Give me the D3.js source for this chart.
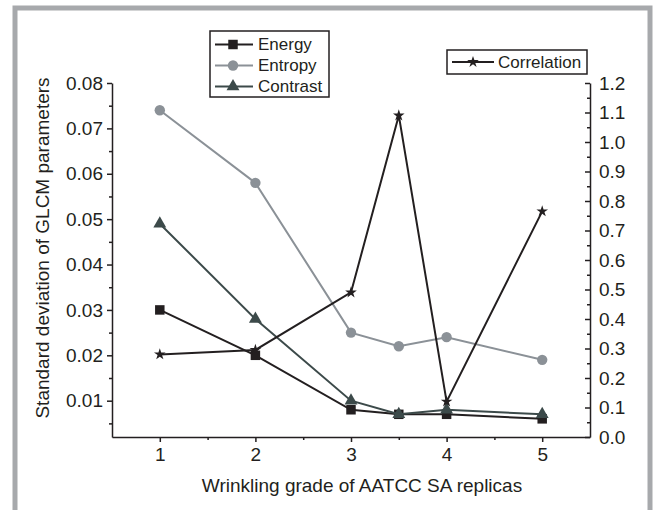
<!DOCTYPE html>
<html>
<head>
<meta charset="utf-8">
<script src="https://cdn.jsdelivr.net/npm/d3@7"></script>
<style>
  body { margin: 0; background: #fff; }
  svg { display: block; font-family: "Liberation Sans", Arial, sans-serif; }
</style>
</head>
<body>
<div id="chart"></div>
<script>
// grades (x), with one intermediate sample at 3.5
const grades = [1, 2, 3, 3.5, 4, 5];
const energy = [0.030, 0.020, 0.008, 0.007, 0.007, 0.006];
const entropy = [0.074, 0.058, 0.025, 0.022, 0.024, 0.019];
const contrast = [0.049, 0.028, 0.010, 0.007, 0.008, 0.007];
const correlation = [0.28, 0.295, 0.49, 1.09, 0.12, 0.765];

const xTicks = [1, 2, 3, 4, 5];
const leftTicks = [0.01, 0.02, 0.03, 0.04, 0.05, 0.06, 0.07, 0.08];
const rightTicks = [0, 0.1, 0.2, 0.3, 0.4, 0.5, 0.6, 0.7, 0.8, 0.9, 1.0, 1.1, 1.2];

const W = 654, H = 510;
const svg = d3.select("#chart").append("svg")
    .attr("width", W)
    .attr("height", H);

// gray frame round the figure
svg.append("rect")
    .attr("x", 15).attr("y", 8)
    .attr("width", 635).attr("height", 520)
    .attr("fill", "none")
    .attr("stroke", "#a7a9ac")
    .attr("stroke-width", 5);

// scales
const x = d3.scaleLinear().domain([0.5, 5.5]).range([112, 590]);
const yL = d3.scaleLinear().domain([0.002, 0.08]).range([437, 83]);
const yR = d3.scaleLinear().domain([0, 1.2]).range([437, 83]);

const axisColor = "#231f20";

function styleAxis(g) {
    g.select(".domain").attr("stroke", axisColor).attr("stroke-width", 1.5);
    g.selectAll(".tick line").attr("stroke", axisColor).attr("stroke-width", 1.5);
    g.selectAll(".tick text").attr("fill", axisColor).style("font-size", "19px");
}

// bottom axis
svg.append("g")
    .attr("transform", "translate(0,437)")
    .call(d3.axisBottom(x).tickValues(xTicks).tickFormat(d3.format("d")).tickSize(5).tickSizeOuter(0).tickPadding(6))
    .call(styleAxis);
svg.append("g")
    .attr("transform", "translate(0,437)")
    .call(d3.axisBottom(x).tickValues([1.5, 2.5, 3.5, 4.5]).tickFormat("").tickSize(3).tickSizeOuter(0))
    .call(g => g.select(".domain").remove())
    .call(styleAxis);

// left axis
svg.append("g")
    .attr("transform", "translate(112,0)")
    .call(d3.axisLeft(yL).tickValues(leftTicks).tickFormat(d3.format(".2f")).tickSize(5).tickSizeOuter(0).tickPadding(4))
    .call(styleAxis);
svg.append("g")
    .attr("transform", "translate(112,0)")
    .call(d3.axisLeft(yL).tickValues([0.005, 0.015, 0.025, 0.035, 0.045, 0.055, 0.065, 0.075]).tickFormat("").tickSize(3).tickSizeOuter(0))
    .call(g => g.select(".domain").remove())
    .call(styleAxis);

// right axis, ticks drawn inward
svg.append("g")
    .attr("transform", "translate(590,0)")
    .call(d3.axisRight(yR).tickValues(rightTicks).tickFormat(d3.format(".1f")).tickSize(-5).tickSizeOuter(0).tickPadding(9))
    .call(styleAxis);
svg.append("g")
    .attr("transform", "translate(590,0)")
    .call(d3.axisRight(yR).tickValues(d3.range(0.05, 1.2, 0.1)).tickFormat("").tickSize(-3).tickSizeOuter(0))
    .call(g => g.select(".domain").remove())
    .call(styleAxis);

// axis titles
svg.append("text")
    .attr("x", 362).attr("y", 492)
    .attr("text-anchor", "middle")
    .attr("fill", axisColor)
    .style("font-size", "19px")
    .text("Wrinkling grade of AATCC SA replicas");

svg.append("text")
    .attr("transform", "translate(49,248) rotate(-90)")
    .attr("text-anchor", "middle")
    .attr("fill", axisColor)
    .style("font-size", "19px")
    .text("Standard deviation of GLCM parameters");

// series
const series = [
    { name: "Energy", values: energy, color: "#231f20", symbol: d3.symbolSquare, size: 90, scale: yL },
    { name: "Entropy", values: entropy, color: "#8b9197", symbol: d3.symbolCircle, size: 85, scale: yL },
    { name: "Contrast", values: contrast, color: "#3c4a4a", symbol: d3.symbolTriangle, size: 72, scale: yL },
    { name: "Correlation", values: correlation, color: "#231f20", symbol: d3.symbolStar, size: 42, scale: yR }
];

series.forEach(s => {
    const pts = grades.map((g, i) => [g, s.values[i]]);
    const line = d3.line()
        .x(d => x(d[0]))
        .y(d => s.scale(d[1]));
    svg.append("path")
        .datum(pts)
        .attr("d", line)
        .attr("fill", "none")
        .attr("stroke", s.color)
        .attr("stroke-width", 2);
    svg.selectAll(null)
        .data(pts)
        .enter()
        .append("path")
        .attr("transform", d => `translate(${x(d[0])},${s.scale(d[1])})`)
        .attr("d", d3.symbol().type(s.symbol).size(s.size))
        .attr("fill", s.color);
});

// legend for left-axis series
const leg1 = svg.append("g");
leg1.append("rect")
    .attr("x", 210).attr("y", 31)
    .attr("width", 119).attr("height", 66)
    .attr("fill", "#fff")
    .attr("stroke", axisColor)
    .attr("stroke-width", 1.5);
series.slice(0, 3).forEach((s, i) => {
    const yy = 44.5 + i * 21;
    leg1.append("line")
        .attr("x1", 215).attr("x2", 253)
        .attr("y1", yy).attr("y2", yy)
        .attr("stroke", s.color).attr("stroke-width", 2);
    leg1.append("path")
        .attr("transform", `translate(233,${yy})`)
        .attr("d", d3.symbol().type(s.symbol).size(s.size))
        .attr("fill", s.color);
    leg1.append("text")
        .attr("x", 258).attr("y", yy)
        .attr("dy", "0.35em")
        .attr("fill", axisColor)
        .style("font-size", "17px")
        .text(s.name);
});

// legend for correlation
const leg2 = svg.append("g");
leg2.append("rect")
    .attr("x", 447).attr("y", 50)
    .attr("width", 140).attr("height", 24)
    .attr("fill", "#fff")
    .attr("stroke", axisColor)
    .attr("stroke-width", 1.5);
leg2.append("line")
    .attr("x1", 452).attr("x2", 494)
    .attr("y1", 62).attr("y2", 62)
    .attr("stroke", axisColor).attr("stroke-width", 2);
leg2.append("path")
    .attr("transform", "translate(473,62)")
    .attr("d", d3.symbol().type(d3.symbolStar).size(42))
    .attr("fill", axisColor);
leg2.append("text")
    .attr("x", 498).attr("y", 62)
    .attr("dy", "0.35em")
    .attr("fill", axisColor)
    .style("font-size", "17px")
    .text("Correlation");
</script>
</body>
</html>
